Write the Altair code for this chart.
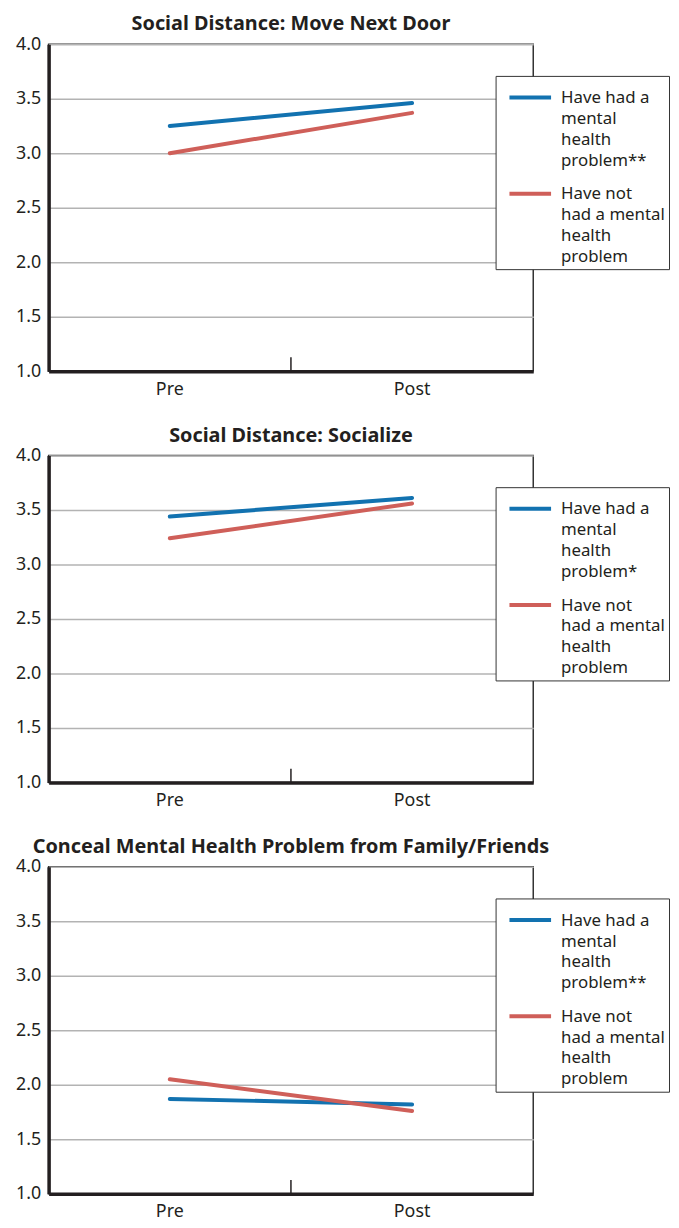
import altair as alt
import pandas as pd

times = ["Pre", "Post"]
series = ["had", "not"]
titles = [
    "Social Distance: Move Next Door",
    "Social Distance: Socialize",
    "Conceal Mental Health Problem from Family/Friends",
]
had_vals = [[3.25, 3.46], [3.44, 3.61], [1.87, 1.82]]
not_vals = [[3.00, 3.37], [3.24, 3.56], [2.05, 1.76]]
had_labels = [
    ["Have had a", "mental", "health", "problem**"],
    ["Have had a", "mental", "health", "problem*"],
    ["Have had a", "mental", "health", "problem**"],
]
not_label = ["Have not", "had a mental", "health", "problem"]
y_ticks = [1.0, 1.5, 2.0, 2.5, 3.0, 3.5, 4.0]
divider_at = ["Post"]  # axis tick drawn at the start of this band
colors = ["#1272b0", "#cf5f59"]

FONT = "Noto Sans"
TXT = "#231f20"
# legend line-sample shape (unit coords, scaled by sqrt(symbolSize)/2 = 8.5)
SAMPLE_PATH = "M-0.06,0.86H4.88"
PLOT_W, PLOT_H = 489, 330


def arr(lines):
    return "[" + ",".join("'" + s + "'" for s in lines) + "]"


x_scale = alt.Scale(type="band", domain=times, paddingInner=0, paddingOuter=0)
x_axis = alt.Axis(
    title=None,
    orient="bottom",
    ticks=False,
    grid=False,
    labelAngle=0,
    labelFontSize=18,
    labelFont=FONT,
    labelColor=TXT,
    labelPadding=9,
    domainColor="#231f20",
    domainWidth=3.5,
)

panels = []
for i in range(3):
    rows = []
    for s, vals in zip(series, [had_vals[i], not_vals[i]]):
        for t, v in zip(times, vals):
            rows.append({"time": t, "series": s, "value": v})
    df = pd.DataFrame(rows)
    label_expr = f"datum.value == 'had' ? {arr(had_labels[i])} : {arr(not_label)}"

    lines = alt.Chart(df).mark_line(strokeWidth=4, strokeCap="round").encode(
        x=alt.X("time:N", sort=times, scale=x_scale, axis=x_axis),
        y=alt.Y(
            "value:Q",
            scale=alt.Scale(domain=[1, 4], nice=False, zero=False),
            axis=alt.Axis(
                title=None,
                values=y_ticks,
                format=".1f",
                ticks=False,
                grid=True,
                gridColor="#b3b3b3",
                gridWidth=1.5,
                labelFontSize=18,
                labelFont=FONT,
                labelColor=TXT,
                labelPadding=8,
                domainColor="#231f20",
                domainWidth=3.5,
            ),
        ),
        color=alt.Color(
            "series:N",
            scale=alt.Scale(domain=series, range=colors),
            legend=alt.Legend(
                title=None,
                orient="none",
                legendX=451,
                legendY=32,
                symbolType=SAMPLE_PATH,
                symbolSize=289,
                symbolStrokeWidth=4,
                labelExpr=label_expr,
                labelFontSize=17,
                labelFont=FONT,
                labelColor=TXT,
                labelLimit=250,
                labelOffset=41,
                labelBaseline="top",
                rowPadding=7,
                padding=4,
                strokeColor="#333333",
                fillColor="white",
            ),
        ),
    )
    tick = (
        alt.Chart(pd.DataFrame({"time": divider_at}))
        .mark_rule(color="#231f20", strokeWidth=1.5)
        .encode(
            x=alt.X("time:N", sort=times, scale=x_scale, bandPosition=0, axis=x_axis),
            y=alt.value(PLOT_H),
            y2=alt.value(PLOT_H - 14),
        )
    )
    panel = alt.layer(lines, tick).properties(
        width=PLOT_W,
        height=PLOT_H,
        title=alt.TitleParams(
            titles[i],
            font=FONT,
            fontSize=20,
            fontWeight="bold",
            color=TXT,
            anchor="middle",
            offset=1,
        ),
    )
    panels.append(panel)

chart = alt.vconcat(*panels, spacing=26)
chart = chart.resolve_scale(color="independent", x="independent", y="independent")
chart = chart.resolve_legend(color="independent")
chart = chart.properties(padding={"left": 6, "top": 0, "right": 0, "bottom": 0})
chart = chart.configure_view(stroke="#333333", strokeWidth=1.5)

spec = chart.to_dict()
spec.setdefault("config", {})
spec["config"]["background"] = "white"
spec["config"]["style"] = {"guide-label": {"lineHeight": 21}}
chart = alt.VConcatChart.from_dict(spec, validate=False)

chart.save("out.html", embed_options={"renderer": "svg", "actions": False})
